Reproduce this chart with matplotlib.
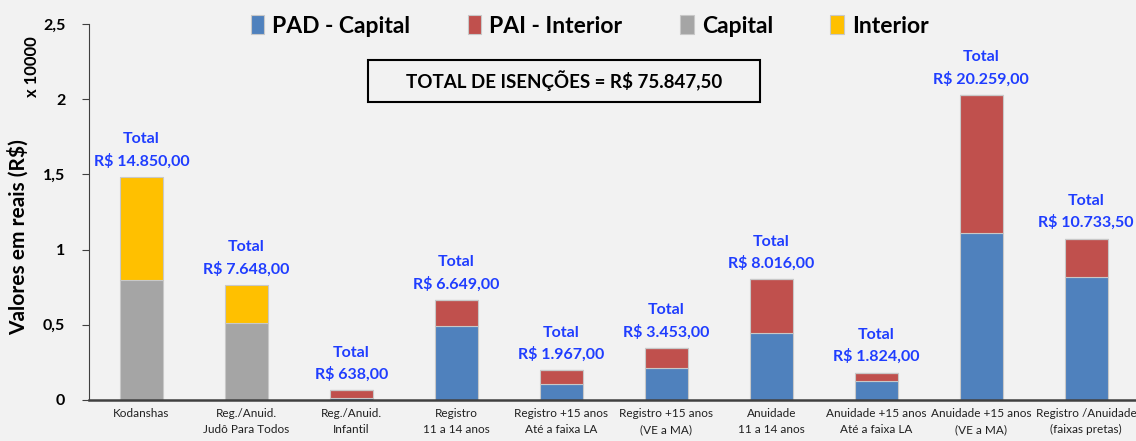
import numpy as np
import matplotlib.pyplot as plt
from matplotlib.patches import Rectangle

plt.rcParams['font.family'] = ['Lato', 'DejaVu Sans']

categorias = ['Kodanshas', 'Reg./Anuid.\nJudô Para Todos', 'Reg./Anuid.\nInfantil',
              'Registro\n11 a 14 anos', 'Registro +15 anos\nAté a faixa LA',
              'Registro +15 anos\n(VE a MA)', 'Anuidade\n11 a 14 anos',
              'Anuidade +15 anos\nAté a faixa LA', 'Anuidade +15 anos\n(VE a MA)',
              'Registro /Anuidade\n(faixas pretas)']

# valores em R$
pad_capital = [0, 0, 160, 4920, 1060, 2130, 4480, 1280, 11080, 8200]
pai_interior = [0, 0, 478, 1729, 907, 1323, 3536, 544, 9179, 2533.5]
capital = [8000, 5100, 0, 0, 0, 0, 0, 0, 0, 0]
interior = [6850, 2548, 0, 0, 0, 0, 0, 0, 0, 0]
totais = ['14.850,00', '7.648,00', '638,00', '6.649,00', '1.967,00', '3.453,00',
          '8.016,00', '1.824,00', '20.259,00', '10.733,50']
total_geral = '75.847,50'

escala = 10000
fundo = '#F2F2F2'

fig = plt.figure(figsize=(11.36, 4.41), dpi=100, facecolor=fundo)
ax = fig.add_axes([0.0783, 0.093, 0.924, 0.8526], facecolor=fundo)

x = np.arange(len(categorias))
w = 0.41
pad = np.array(pad_capital) / escala
pai = np.array(pai_interior) / escala
cap = np.array(capital) / escala
inte = np.array(interior) / escala

borda = dict(edgecolor='#C8C8C8', linewidth=0.8)
b1 = ax.bar(x, pad, w, color='#4F81BD', label='PAD - Capital', **borda)
b2 = ax.bar(x, pai, w, bottom=pad, color='#C0504D', label='PAI - Interior', **borda)
b3 = ax.bar(x, cap, w, bottom=pad + pai, color='#A5A5A5', label='Capital', **borda)
b4 = ax.bar(x, inte, w, bottom=pad + pai + cap, color='#FFC000', label='Interior', **borda)

topo = pad + pai + cap + inte
for xi, yi, t in zip(x, topo, totais):
    ax.annotate('Total\nR$ ' + t, (xi, yi), xytext=(0, 6), textcoords='offset points',
                ha='center', va='bottom', color='#1F3DFF', fontsize=11.5,
                fontweight='bold', linespacing=1.6)

ax.set_xlim(-0.5, len(categorias) - 0.5)
ax.set_ylim(0, 2.5)
ax.set_yticks([0, 0.5, 1, 1.5, 2, 2.5])
ax.set_yticklabels(['0', '0,5', '1', '1,5', '2', '2,5'], fontsize=11.5, fontweight='bold')
ax.set_xticks(x)
ax.set_xticklabels(categorias, fontsize=8.5, linespacing=1.55, color='#202020')
ax.tick_params(axis='x', length=0, pad=6)
ax.tick_params(axis='y', direction='out', length=5, color='#404040', pad=12)

for s in ['top', 'right']:
    ax.spines[s].set_visible(False)
ax.spines['left'].set_color('#404040')
ax.spines['bottom'].set_color('#404040')
ax.spines['bottom'].set_linewidth(1.8)

fig.text(0.016, 0.462, 'Valores em reais (R$)', rotation=90, ha='center', va='center',
         fontsize=15, fontweight='bold')
fig.text(0.028, 0.85, 'x 10000', rotation=90, ha='center', va='center',
         fontsize=12, fontweight='bold')

ax.legend(handles=[b1, b2, b3, b4], loc='center', bbox_to_anchor=(0.477, 0.995),
          ncol=4, frameon=False, handlelength=0.6, handleheight=0.9,
          handletextpad=0.35, columnspacing=2.5, prop={'weight': 'bold', 'size': 16.5})

fig.patches.append(Rectangle((368 / 1136, 1 - 102 / 441), 392 / 1136, 42 / 441,
                             transform=fig.transFigure, fill=False,
                             edgecolor='black', linewidth=1.5))
fig.text(564 / 1136, 1 - 81 / 441, 'TOTAL DE ISENÇÕES = R$ ' + total_geral,
         ha='center', va='center', fontsize=13.5, fontweight='bold')

fig.savefig('out.png', dpi=100, facecolor=fundo)
